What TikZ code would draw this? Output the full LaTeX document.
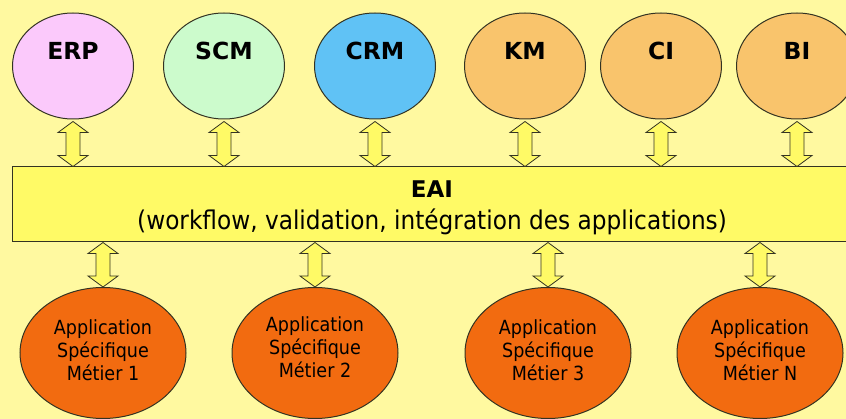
\documentclass[tikz,border=0pt]{standalone}
\usepackage{fontspec}
\setmainfont{DejaVu Sans}[FakeStretch=0.9]
\newfontfamily\lblfont{DejaVu Sans Bold}
\usetikzlibrary{shapes.geometric,calc}
\definecolor{bgcol}{HTML}{FFF9A0}
\definecolor{boxcol}{HTML}{FFFA66}
\definecolor{erpcol}{HTML}{FBC9FB}
\definecolor{scmcol}{HTML}{CCFBCC}
\definecolor{crmcol}{HTML}{60C2F5}
\definecolor{lightor}{HTML}{F9C46C}
\definecolor{darkor}{HTML}{F26B10}
\definecolor{edge}{HTML}{333322}
\tikzset{
  topell/.style={ellipse, draw=edge, line width=1pt, minimum width=121pt, minimum height=106pt, inner sep=0pt},
  toplbl/.style={font=\lblfont\fontsize{23.5}{26}\selectfont, inner sep=0pt},
  botell/.style={ellipse, draw=edge, line width=1pt, fill=darkor, minimum width=166pt, minimum height=131pt, inner sep=0pt},
  botlbl/.style={align=center, inner sep=0pt, font=\fontsize{19.5}{23}\selectfont},
  dblarrow/.style={draw=edge, line width=0.8pt, fill=boxcol, line join=miter},
  eaibox/.style={rectangle, draw=edge, line width=1pt, fill=boxcol, minimum width=840pt, minimum height=75pt, inner sep=0pt},
  eaititle/.style={font=\lblfont\fontsize{23}{26}\selectfont, inner sep=0pt},
  eaisub/.style={font=\fontsize{25.8}{30}\selectfont, inner sep=0pt}
}
\newcommand\dblarr[2]{\draw[dblarrow] let \p1=(#1), \p2=(#2) in
  (\x1,\y1) -- (\x1+15pt,\y1-11pt) -- (\x1+7pt,\y1-11pt) -- (\x1+7pt,\y2+11pt) -- (\x1+15pt,\y2+11pt)
  -- (\x1,\y2) -- (\x1-15pt,\y2+11pt) -- (\x1-7pt,\y2+11pt) -- (\x1-7pt,\y1-11pt) -- (\x1-15pt,\y1-11pt) -- cycle;}
\begin{document}
\begin{tikzpicture}[x=1pt,y=-1pt]
\useasboundingbox (0,0) rectangle (846,419);
\clip (0,0) rectangle (846,419);
\fill[bgcol] (0,0) rectangle (846,419);
% top ellipses
\node[topell, fill=erpcol, label={[toplbl,yshift=15pt]center:ERP}] (erp) at (73,66) {};
\node[topell, fill=scmcol, label={[toplbl,yshift=15pt]center:SCM}] (scm) at (224,66) {};
\node[topell, fill=crmcol, label={[toplbl,yshift=15pt]center:CRM}] (crm) at (375,66) {};
\node[topell, fill=lightor, label={[toplbl,yshift=15pt]center:KM}] (km) at (525,66) {};
\node[topell, fill=lightor, label={[toplbl,yshift=15pt]center:CI}] (ci) at (661,66) {};
\node[topell, fill=lightor, label={[toplbl,yshift=15pt]center:BI}] (bi) at (797,66) {};
% EAI box
\node[eaibox,
  label={[eaititle,yshift=15pt]center:EAI},
  label={[eaisub,yshift=-17.5pt]center:(workflow, validation, intégration des applications)}]
  (eai) at (432,204.5) {};
% bottom ellipses
\node[botell, label={[botlbl,yshift=3pt]center:Application\\Spécifique\\Métier 1}] (app1) at (103,353) {};
\node[botell, label={[botlbl,yshift=6pt]center:Application\\Spécifique\\Métier 2}] (app2) at (315,353) {};
\node[botell, label={[botlbl,yshift=3pt]center:Application\\Spécifique\\Métier 3}] (app3) at (548,353) {};
\node[botell, label={[botlbl,yshift=3pt]center:Application\\Spécifique\\Métier N}] (appn) at (760,353) {};
% arrow end coordinates
\foreach \n in {erp,scm,crm,km,ci,bi}{
  \coordinate (\n-a) at ($(\n.south)+(0,2)$);
  \coordinate (\n-b) at (\n.south |- eai.north);
}
\foreach \n in {app1,app2,app3,appn}{
  \coordinate (\n-a) at (eai.south -| \n.north);
  \coordinate (\n-b) at (\n.north);
}
% arrows
\dblarr{erp-a}{erp-b}
\dblarr{scm-a}{scm-b}
\dblarr{crm-a}{crm-b}
\dblarr{km-a}{km-b}
\dblarr{ci-a}{ci-b}
\dblarr{bi-a}{bi-b}
\dblarr{app1-a}{app1-b}
\dblarr{app2-a}{app2-b}
\dblarr{app3-a}{app3-b}
\dblarr{appn-a}{appn-b}
\end{tikzpicture}
\end{document}
